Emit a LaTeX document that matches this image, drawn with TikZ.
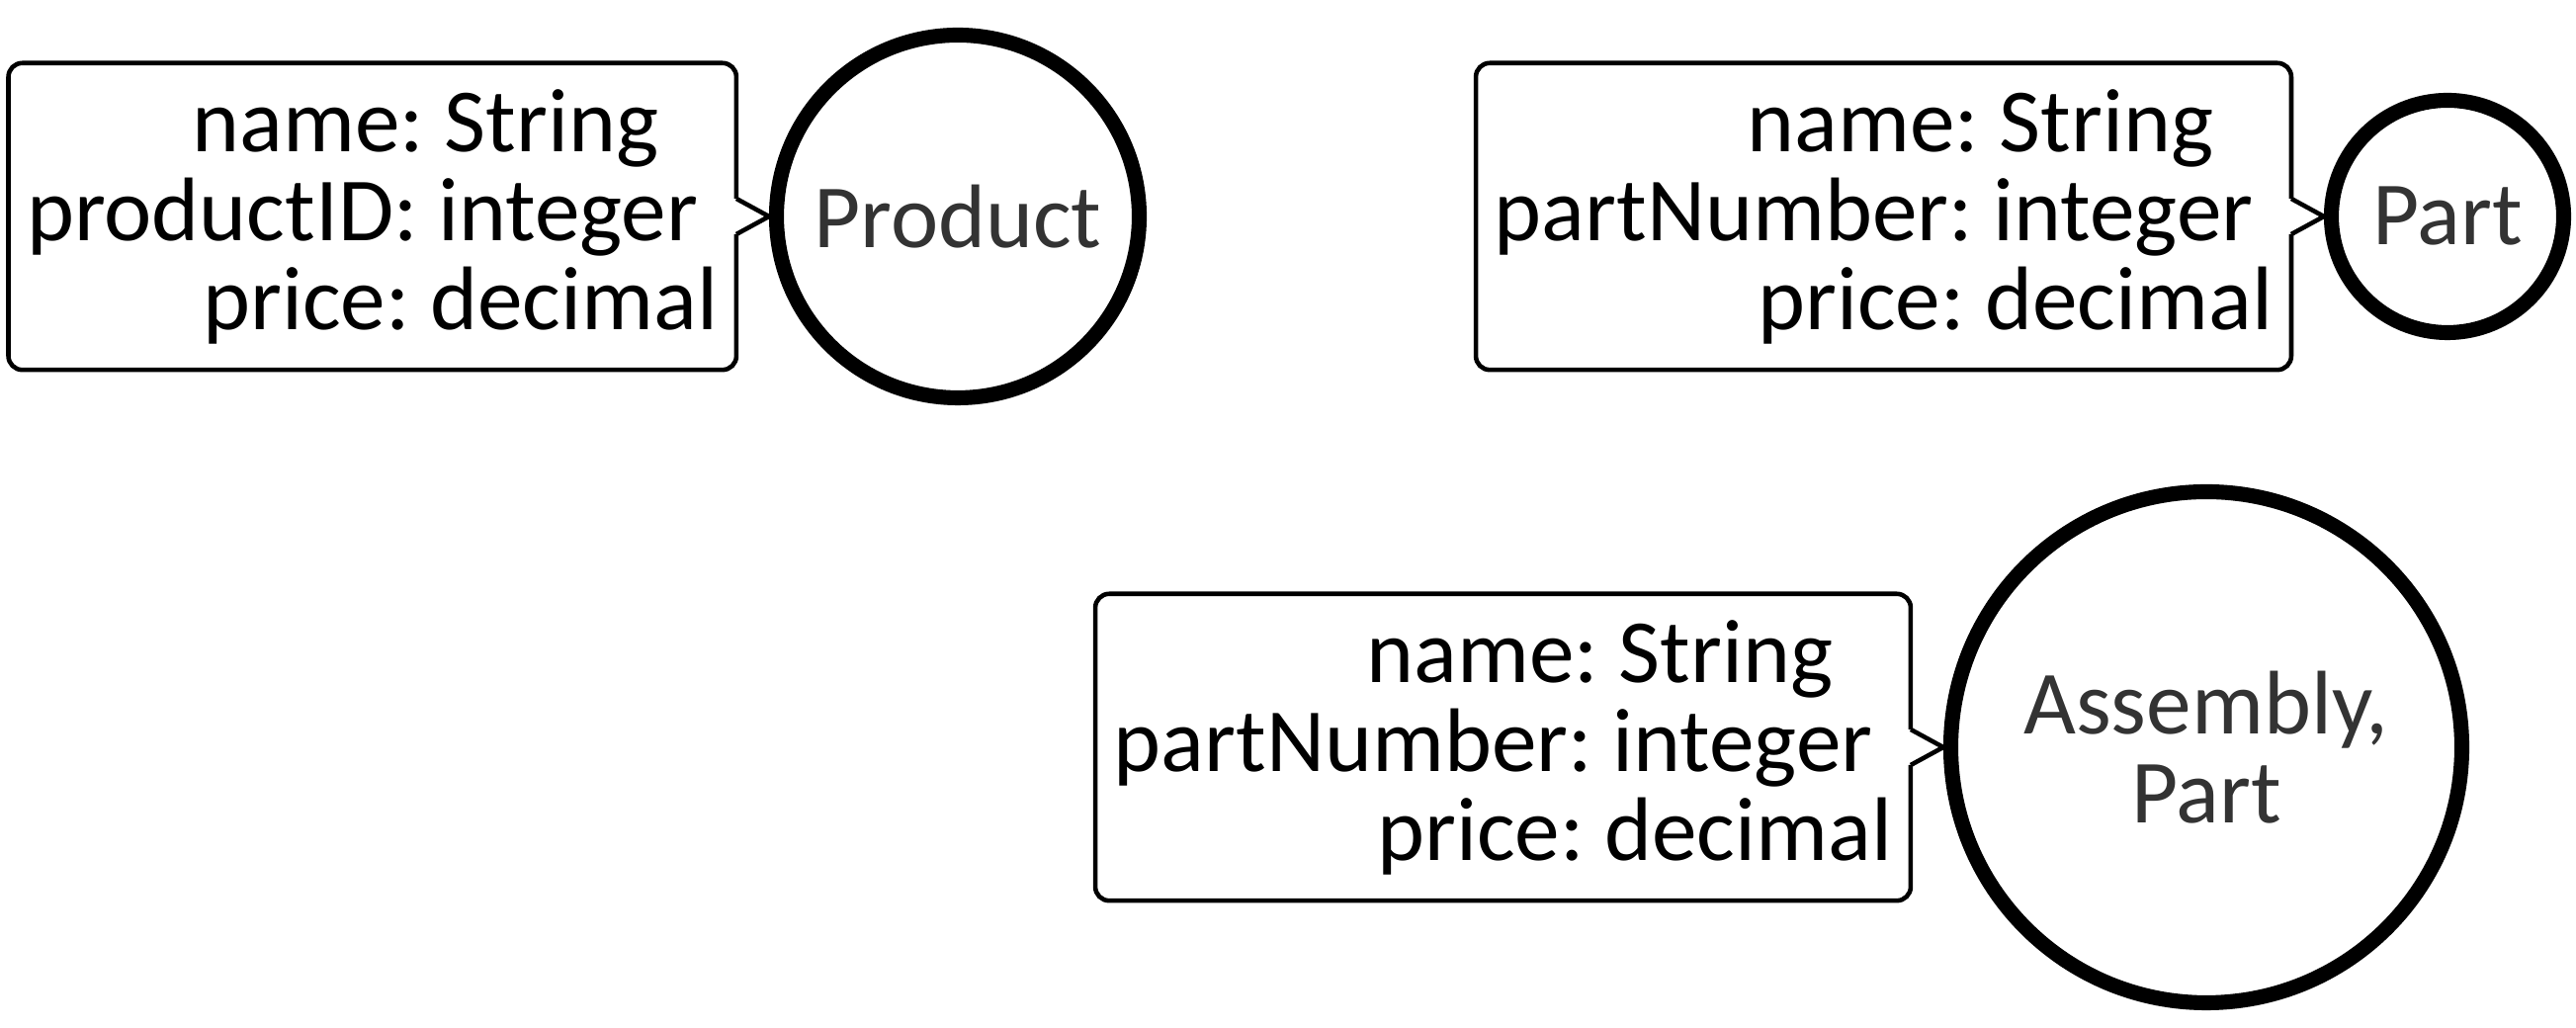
\documentclass[tikz,border=0pt]{standalone}
\usepackage{fontspec}
\setmainfont{Carlito}
\usetikzlibrary{positioning}

\tikzset{
  entity/.style={circle, draw, line width=4.3pt, inner sep=0pt, align=center,
    text=black!80, font=\fontsize{26}{25.6}\selectfont},
  attrbox/.style={rectangle, inner xsep=0.18cm, inner ysep=0pt, minimum height=3.09cm,
    align=right, font=\fontsize{26}{25.6}\selectfont\frenchspacing},
  attrline/.style={line width=1.3pt, rounded corners=4pt},
}

\begin{document}
\begin{tikzpicture}
            \useasboundingbox (0,0) rectangle (26.06,10.4);
            % entities
            \node[entity, minimum size=3.67cm] (prod) at (9.69,8.21) {Product};
            \node[entity, minimum size=2.35cm] (part) at (24.76,8.21) {Part};
            \node[entity, minimum size=5.17cm] (asm) at (22.32,2.84) {Assembly,\\Part};
            % attribute boxes
            \node[attrbox, left=0.33cm of prod] (prodattr)
                {name: String\kern0.6cm\\productID: integer\kern0.2cm\\price: decimal};
            \node[attrbox, left=0.33cm of part] (partattr)
                {name: String\kern0.6cm\\partNumber: integer\kern0.2cm\\price: decimal};
            \node[attrbox, left=0.33cm of asm] (asmattr)
                {name: String\kern0.6cm\\partNumber: integer\kern0.2cm\\price: decimal};
            \foreach \b/\c in {prodattr/prod, partattr/part, asmattr/asm} {
                \draw[attrline] ([yshift=0.18cm]\b.east) |- (\b.north west)
                    |- (\b.south east) -- ([yshift=-0.18cm]\b.east);
                \draw[line width=1.3pt] ([yshift=0.18cm]\b.east) -- (\c.west)
                    -- ([yshift=-0.18cm]\b.east);
            }
\end{tikzpicture}
\end{document}
